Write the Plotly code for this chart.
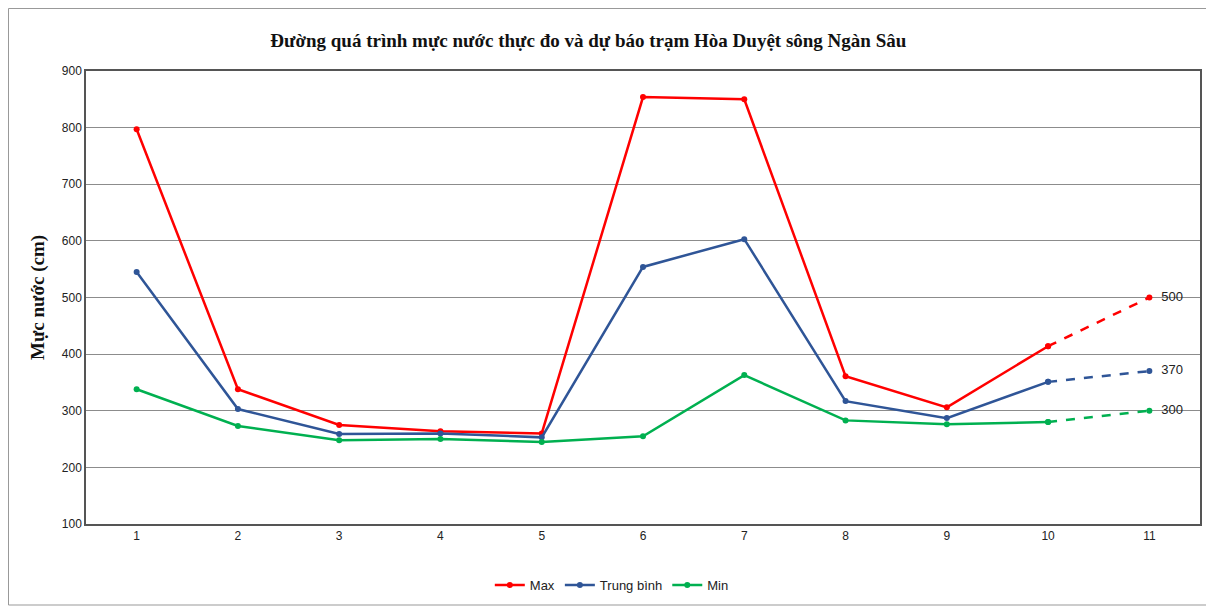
import plotly.graph_objects as go

categories = [1, 2, 3, 4, 5, 6, 7, 8, 9, 10, 11]
max_vals = [797, 338, 275, 264, 260, 854, 850, 361, 306, 414, 500]
mean_vals = [545, 303, 259, 260, 253, 554, 603, 317, 287, 351, 370]
min_vals = [338, 273, 248, 250, 245, 255, 363, 283, 276, 280, 300]
forecast_labels = ["500", "370", "300"]

series = [
    ("Max", max_vals, "#FF0000"),
    ("Trung bình", mean_vals, "#2F5597"),
    ("Min", min_vals, "#00B050"),
]

FONT = "Liberation Sans, Arial"
xcat = [str(c) for c in categories]
fig = go.Figure()
for name, vals, color in series:
    fig.add_trace(go.Scatter(
        x=xcat[:10], y=vals[:10], name=name, mode="lines+markers",
        line=dict(color=color, width=2.5),
        marker=dict(size=6, color=color, symbol="circle"),
    ))
for (name, vals, color), lab in zip(series, forecast_labels):
    fig.add_trace(go.Scatter(
        x=xcat[9:], y=vals[9:], name=name + " dự báo", mode="lines+markers+text",
        line=dict(color=color, width=2.5, dash="dash"),
        marker=dict(size=6, color=color), showlegend=False,
        text=["", "  " + lab], textposition="middle right",
        textfont=dict(family=FONT, size=13, color="#222"),
        cliponaxis=False,
    ))

L, T = 78, 63
PW, PH = 1114, 453
fig.update_layout(
    width=1214, height=607,
    paper_bgcolor="white", plot_bgcolor="white",
    margin=dict(l=L, r=1214 - L - PW, t=T, b=607 - T - PH),
    title=dict(text="<b>Đường quá trình mực nước thực đo và dự báo trạm Hòa Duyệt sông Ngàn Sâu</b>",
               x=0.478, xanchor="center", y=0.947, yanchor="middle",
               font=dict(family="Liberation Serif, Times New Roman", size=19, color="#111")),
    legend=dict(orientation="h", x=0.472, xanchor="center", y=-0.135, yanchor="middle",
                font=dict(family=FONT, size=13, color="#222")),
    shapes=[dict(type="rect", xref="paper", yref="paper",
                 x0=(0.5 - L) / PW, x1=(1203 - L) / PW,
                 y0=-(597 - T - PH) / PH, y1=1 + (T - 0.5) / PH,
                 line=dict(color="#999", width=1))],
)
fig.update_xaxes(type="category", range=[-0.5, 10.5], showgrid=False,
                 showline=True, linecolor="#555", linewidth=1.5, mirror=True,
                 ticks="", tickfont=dict(family=FONT, size=12, color="#222"))
fig.update_yaxes(range=[100, 900], dtick=100, showgrid=True, gridcolor="#8c8c8c", gridwidth=1,
                 showline=True, linecolor="#555", linewidth=1.5, mirror=True, zeroline=False,
                 ticks="", tickfont=dict(family=FONT, size=12, color="#222"),
                 title=dict(text="<b>Mực nước (cm)</b>", standoff=12,
                            font=dict(family="Liberation Serif, Times New Roman", size=19, color="#111")))

fig.write_html("out.html")
